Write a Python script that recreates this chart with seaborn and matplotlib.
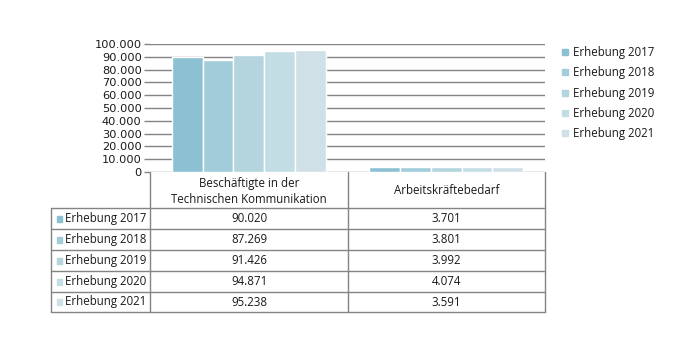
import matplotlib
matplotlib.use("Agg")
import matplotlib.pyplot as plt
import seaborn as sns
import pandas as pd
from matplotlib.lines import Line2D
from matplotlib.patches import Rectangle
from matplotlib.ticker import FuncFormatter

categories = ["Beschäftigte in der\nTechnischen Kommunikation", "Arbeitskräftebedarf"]
years = ["Erhebung 2017", "Erhebung 2018", "Erhebung 2019", "Erhebung 2020", "Erhebung 2021"]
beschaeftigte = [90020, 87269, 91426, 94871, 95238]
bedarf = [3701, 3801, 3992, 4074, 3591]
colors = ["#8cc1d3", "#a1cddb", "#b4d4de", "#c3dde5", "#cfe1e7"]
yticks = list(range(0, 100001, 10000))

rows = []
for i, y in enumerate(years):
    rows.append({"cat": categories[0], "year": y, "value": beschaeftigte[i]})
    rows.append({"cat": categories[1], "year": y, "value": bedarf[i]})
df = pd.DataFrame(rows)

sns.set_theme(style="white")
plt.rcParams["font.family"] = ["Open Sans", "DejaVu Sans"]

W, H = 700, 350
fig = plt.figure(figsize=(7, 3.5), dpi=100)
ax = fig.add_axes([150 / W, 1 - 172 / H, 395 / W, 128 / H])

sns.barplot(data=df, x="cat", y="value", hue="year", palette=colors,
            hue_order=years, order=categories, width=0.78, saturation=1,
            edgecolor="white", linewidth=1, ax=ax, legend=False)

ax.set_ylim(0, 100000)
ax.set_xlim(-0.5, 1.5)
ax.set_yticks(yticks)
ax.yaxis.set_major_formatter(FuncFormatter(lambda v, p: f"{int(v):,}".replace(",", ".")))
ax.grid(axis="y", color="#848484", linewidth=1)
ax.set_axisbelow(True)
ax.tick_params(axis="y", length=4, color="#848484", width=1, labelsize=8.2, pad=2,
               left=True, labelcolor="#1a1a1a")
for lab in ax.get_yticklabels():
    lab.set_fontfamily("DejaVu Sans")
ax.set_xticks([])
ax.set_xlabel("")
ax.set_ylabel("")
for s in ax.spines.values():
    s.set_visible(False)

# Legend
handles = [Line2D([], [], marker="s", linestyle="none", markersize=5,
                  markerfacecolor=c, markeredgecolor=c) for c in colors]
fig.legend(handles, years, loc="upper left", bbox_to_anchor=(553 / W, 1 - 40.5 / H),
           frameon=False, fontsize=8.3, handletextpad=0.2, labelspacing=0.62,
           borderpad=0, handlelength=1.0, labelcolor="#1a1a1a")

# Data table
def fx(x):
    return x / W

def fy(y):
    return 1 - y / H

line_kw = dict(color="#848484", linewidth=1, transform=fig.transFigure)
x_left, x_c1, x_c2, x_right = 51, 150, 348, 545
y_top, y_head = 172, 208
row_lines = [208, 229, 250, 271, 292, 312]

fig.add_artist(Line2D([fx(x_c1), fx(x_c1)], [fy(y_top), fy(row_lines[-1])], **line_kw))
fig.add_artist(Line2D([fx(x_c2), fx(x_c2)], [fy(y_top), fy(row_lines[-1])], **line_kw))
fig.add_artist(Line2D([fx(x_right), fx(x_right)], [fy(y_top), fy(row_lines[-1])], **line_kw))
fig.add_artist(Line2D([fx(x_left), fx(x_left)], [fy(row_lines[0]), fy(row_lines[-1])], **line_kw))
for yl in row_lines:
    fig.add_artist(Line2D([fx(x_left), fx(x_right)], [fy(yl), fy(yl)], **line_kw))

txt_kw = dict(fontsize=8.3, color="#1a1a1a", transform=fig.transFigure)
fig.text(fx((x_c1 + x_c2) / 2), fy((y_top + y_head) / 2 + 1.5), categories[0],
         ha="center", va="center", linespacing=1.38, **txt_kw)
fig.text(fx((x_c2 + x_right) / 2), fy((y_top + y_head) / 2 + 1), categories[1],
         ha="center", va="center", **txt_kw)

for i, yr in enumerate(years):
    yc = (row_lines[i] + row_lines[i + 1]) / 2
    fig.add_artist(Rectangle((fx(57), fy(yc + 3)), 5 / W, 6 / H, color=colors[i],
                             transform=fig.transFigure))
    fig.text(fx(65), fy(yc), yr, ha="left", va="center", **txt_kw)
    fig.text(fx((x_c1 + x_c2) / 2), fy(yc), f"{beschaeftigte[i]:,}".replace(",", "."),
             ha="center", va="center", **txt_kw)
    fig.text(fx((x_c2 + x_right) / 2), fy(yc), f"{bedarf[i]:,}".replace(",", "."),
             ha="center", va="center", **txt_kw)

fig.savefig("out.png", dpi=100, facecolor="white")
